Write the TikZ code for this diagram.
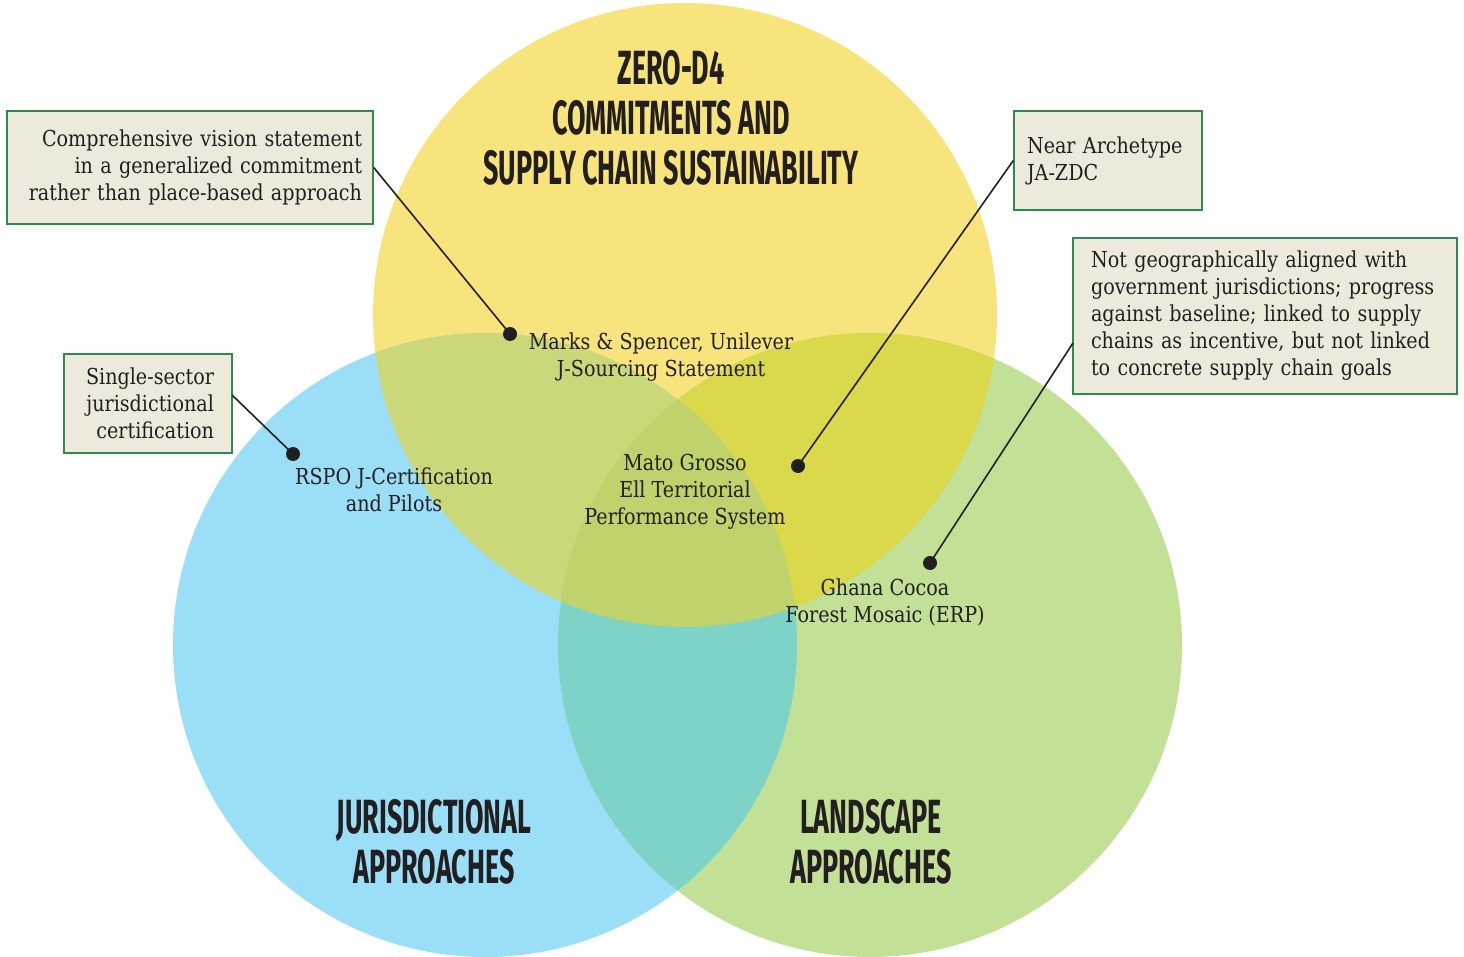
\documentclass[tikz,border=0pt]{standalone}
\usepackage{fontspec}
\setmainfont[FakeStretch=0.87]{DejaVu Serif}
\newfontfamily\headfont[FakeStretch=0.56]{Fira Sans}
\definecolor{cyel}{HTML}{F8E47D}
\definecolor{cblu}{HTML}{9ADFF7}
\definecolor{cgrn}{HTML}{C2E196}
\definecolor{cyb}{HTML}{CBD87A}
\definecolor{cyg}{HTML}{DAD84B}
\definecolor{cbg}{HTML}{7DD3C8}
\definecolor{cybg}{HTML}{C0D26C}
\definecolor{boxfill}{HTML}{EDEADC}
\definecolor{boxline}{HTML}{2E8B4E}
\definecolor{ink}{HTML}{231F20}
\tikzset{
  note/.style={draw=boxline, line width=1.4pt, fill=boxfill, text=ink, font=\fontsize{22}{27}\selectfont, inner xsep=16pt, inner ysep=0pt, anchor=center},
  lbl/.style={text=ink, font=\fontsize{22}{27}\selectfont, align=center, inner sep=0pt},
  head/.style={text=ink, font=\headfont\bfseries\fontsize{48}{50}\selectfont, align=center, inner sep=0pt},
  dot/.style={circle, fill=ink, inner sep=0pt, minimum size=14pt},
  leader/.style={draw=ink, line width=1.6pt}
}
\begin{document}
\begin{tikzpicture}[x=1pt,y=-1pt]
\useasboundingbox (0,0) rectangle (1464,957);
\def\Y{(685,315) circle (312)}
\def\B{(485,645) circle (312)}
\def\G{(870,645) circle (312)}
\fill[cyel] \Y;
\fill[cblu] \B;
\fill[cgrn] \G;
\begin{scope}\clip \Y; \fill[cyb] \B; \end{scope}
\begin{scope}\clip \Y; \fill[cyg] \G; \end{scope}
\begin{scope}\clip \B; \fill[cbg] \G; \end{scope}
\begin{scope}\clip \Y; \clip \B; \fill[cybg] \G; \end{scope}

% headings
\node[head] (hz) at (671,118) {ZERO-D4\\COMMITMENTS AND\\SUPPLY CHAIN SUSTAINABILITY};
\node[head] (hj) at (434,842) {JURISDICTIONAL\\APPROACHES};
\node[head] (hl) at (871,842) {LANDSCAPE\\APPROACHES};

% labels
\node[lbl] (lms) at (661,357) {Marks \& Spencer, Unilever\\J-Sourcing Statement};
\node[lbl] (lrs) at (394,490) {RSPO J-Certification\\and Pilots};
\node[lbl] (lmg) at (685,492) {Mato Grosso\\Ell Territorial\\Performance System};
\node[lbl] (lgh) at (885,602) {Ghana Cocoa\\Forest Mosaic (ERP)};

% dots
\node[dot] (d1) at (510,334) {};
\node[dot] (d2) at (798,466) {};
\node[dot] (d3) at (930,563) {};
\node[dot] (d4) at (293,454) {};

% notes
\node[note, inner xsep=11pt, text width=344pt, minimum height=113pt, align=right] (nA) at (190,167.5)
  {Comprehensive vision statement\\in a generalized commitment\\rather than place-based approach};
\node[note, inner xsep=13pt, text width=162pt, minimum height=99pt, align=left] (nB) at (1108,160.5)
  {Near Archetype\\JA-ZDC};
\node[note, inner xsep=18pt, text width=348pt, minimum height=156pt, align=left] (nC) at (1265,316)
  {Not geographically aligned with\\government jurisdictions; progress\\against baseline; linked to supply\\chains as incentive, but not linked\\to concrete supply chain goals};
\node[note, inner xsep=18pt, text width=132pt, minimum height=99pt, align=right] (nD) at (148,403.5)
  {Single-sector\\jurisdictional\\certification};

\coordinate (cC) at (1073,343);
\coordinate (cD) at (232,395);

\draw[leader] (nA.east) -- (d1.center);
\draw[leader] (nB.west) -- (d2.center);
\draw[leader] (cC) -- (d3.center);
\draw[leader] (cD) -- (d4.center);
\end{tikzpicture}
\end{document}
